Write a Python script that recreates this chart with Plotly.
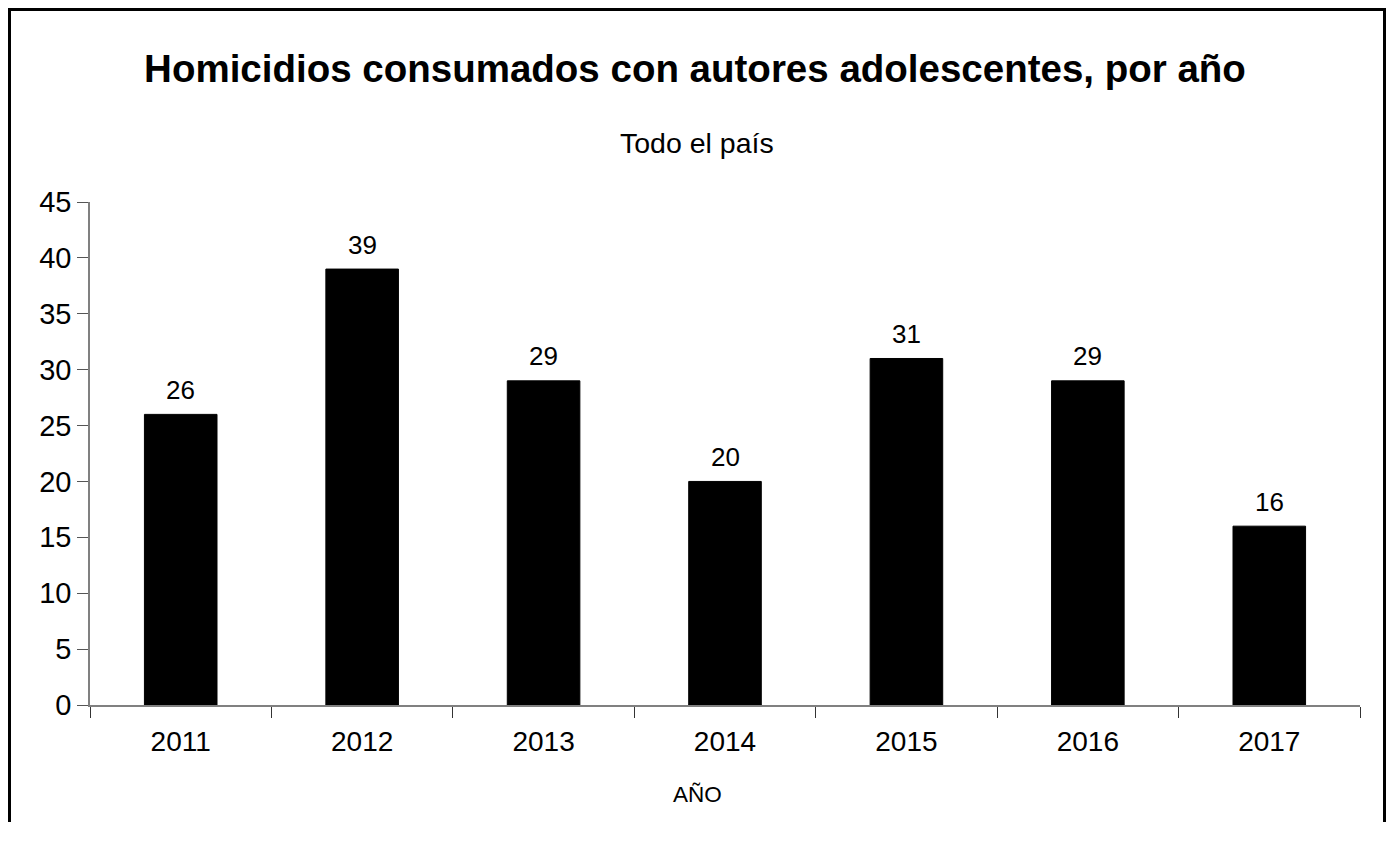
import plotly.graph_objects as go

years = ["2011", "2012", "2013", "2014", "2015", "2016", "2017"]
homicidios = [26, 39, 29, 20, 31, 29, 16]
y_ticks = [0, 5, 10, 15, 20, 25, 30, 35, 40, 45]

# the page body adds an 8px margin; figure coords = screen coords - 8
OFF = 8
W, H = 1394 - 2 * OFF, 846 - 2 * OFF - 16
L, R, T, B = 90 - OFF, 1360 - OFF, 202 - OFF, 705 - OFF
pw, ph = R - L, B - T

def px(xs):
    return (xs - OFF - L) / pw

def py(ys):
    return (B - (ys - OFF)) / ph

FONT = "Liberation Sans, Arial, sans-serif"

fig = go.Figure()
fig.add_trace(go.Bar(
    x=years, y=homicidios, width=0.4,
    marker=dict(color="black", line=dict(color="black", width=1)),
))

annotations = [
    dict(x=i, y=v, xref="x", yref="y", text=str(v), showarrow=False,
         xanchor="center", yanchor="middle", yshift=24.5,
         font=dict(family=FONT, size=26, color="black"))
    for i, v in enumerate(homicidios)
]
annotations += [
    dict(text="Todo el país", xref="paper", yref="paper", x=px(697),
         y=py(143), xanchor="center", yanchor="middle", showarrow=False,
         font=dict(family=FONT, size=28.5, color="black")),
    dict(text="AÑO", xref="paper", yref="paper", x=px(697.7), y=py(794.7),
         xanchor="center", yanchor="middle", showarrow=False,
         font=dict(family=FONT, size=22.5, color="black")),
]

fig.update_layout(
    width=W, height=H,
    margin=dict(l=L, r=W - R, t=T, b=H - B, autoexpand=False),
    paper_bgcolor="white", plot_bgcolor="white",
    showlegend=False,
    font=dict(family=FONT, color="black"),
    title=dict(
        text="<b>Homicidios consumados con autores adolescentes, por año</b>",
        x=(695 - OFF) / W, xanchor="center", y=1 - (68.5 - OFF) / H, yanchor="middle",
        xref="container", yref="container",
        font=dict(family=FONT, size=38.5, color="black"),
    ),
    xaxis=dict(
        type="category", range=[-0.5, len(years) - 0.5],
        showgrid=False, showline=True, linecolor="#808080", linewidth=1.5,
        ticks="outside", tickson="boundaries", ticklen=11, tickcolor="#333", tickwidth=1,
        ticklabelstandoff=11, tickangle=0,
        tickfont=dict(family=FONT, size=28, color="black"),
    ),
    yaxis=dict(
        range=[0, 45], tickvals=y_ticks, showgrid=False, zeroline=False,
        showline=True, linecolor="#808080", linewidth=1.5,
        ticks="outside", ticklen=11, tickcolor="#555", tickwidth=1,
        tickfont=dict(family=FONT, size=29, color="black"),
    ),
    annotations=annotations,
    shapes=[
        dict(type="rect", xref="paper", yref="paper",
             x0=px(OFF + 1.5), x1=px(OFF + W - 1.5), y0=py(900), y1=py(OFF + 1.5),
             line=dict(color="black", width=3), fillcolor="rgba(0,0,0,0)", layer="above"),
    ],
)

fig.write_html("out.html")
